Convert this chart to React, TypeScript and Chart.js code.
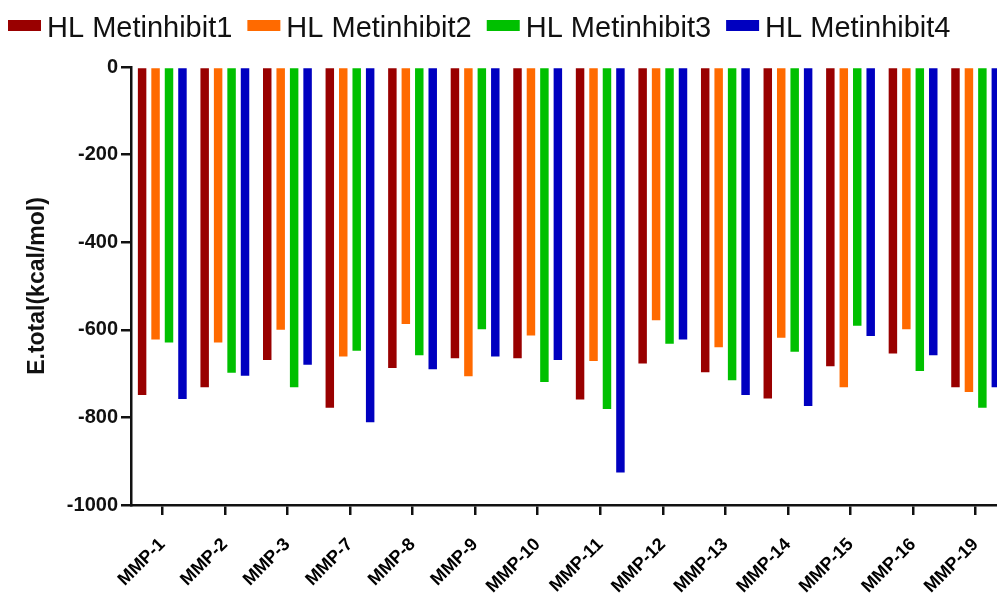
import React, { useEffect, useRef } from "react";
import { Chart, registerables } from "chart.js";

Chart.register(...registerables);

const categories = ["MMP-1", "MMP-2", "MMP-3", "MMP-7", "MMP-8", "MMP-9", "MMP-10", "MMP-11", "MMP-12", "MMP-13", "MMP-14", "MMP-15", "MMP-16", "MMP-19"];
const seriesNames = ["HL Metinhibit1", "HL Metinhibit2", "HL Metinhibit3", "HL Metinhibit4"];
const seriesColors = ["#990000", "#ff6a00", "#00c000", "#0000c0"];
const metinhibit1 = [-749, -731, -669, -778, -687, -665, -665, -759, -677, -697, -757, -683, -654, -731];
const metinhibit2 = [-622, -629, -600, -661, -587, -706, -613, -671, -578, -640, -618, -731, -599, -742];
const metinhibit3 = [-629, -698, -731, -648, -658, -599, -719, -781, -632, -715, -650, -591, -694, -778];
const metinhibit4 = [-758, -705, -680, -811, -690, -661, -669, -926, -622, -749, -774, -614, -658, -731];
const yMin = -1000;
const yMax = 0;
const yStep = 200;
const yTitle = "E.total(kcal/mol)";

const topLegend = {
  id: "topLegend",
  afterDraw(chart: any) {
    const ctx = chart.ctx;
    ctx.save();
    ctx.font = '29px "Liberation Sans", Arial, sans-serif';
    ctx.textBaseline = "alphabetic";
    let x = 8;
    chart.data.datasets.forEach((ds: any) => {
      ctx.fillStyle = ds.backgroundColor;
      ctx.fillRect(x, 20, 33, 11);
      x += 39;
      ctx.fillStyle = "#111";
      ctx.fillText(ds.label, x, 37);
      x += ctx.measureText(ds.label).width + 15;
    });
    ctx.restore();
  },
};

export default function App() {
  const ref = useRef<HTMLCanvasElement | null>(null);
  useEffect(() => {
    if (!ref.current) return;
    const series = [metinhibit1, metinhibit2, metinhibit3, metinhibit4];
    const chart = new Chart(ref.current, {
      type: "bar",
      data: {
        labels: categories,
        datasets: series.map((d, i) => ({
          label: seriesNames[i],
          data: d,
          backgroundColor: seriesColors[i],
          borderWidth: 0,
          categoryPercentage: 0.86,
          barPercentage: 0.63,
        })),
      },
      options: {
        responsive: false,
        animation: false,
        devicePixelRatio: 1,
        layout: { padding: { top: 67, left: 0, right: 2, bottom: 0 } },
        plugins: { legend: { display: false }, tooltip: { enabled: false } },
        scales: {
          x: {
            offset: true,
            grid: { display: true, drawOnChartArea: false, drawTicks: true, tickLength: 10, color: "#111", lineWidth: 2.5, offset: false },
            border: { display: true, color: "#111", width: 2.5 },
            ticks: {
              autoSkip: false,
              maxRotation: 45,
              minRotation: 45,
              padding: 19,
              color: "#000",
              font: { family: '"Liberation Sans", Arial, sans-serif', size: 18, weight: "bold" },
            },
            afterFit: (s: any) => { s.height = 94; },
          },
          y: {
            min: yMin,
            max: yMax,
            grid: { display: true, drawOnChartArea: false, drawTicks: true, tickLength: 10, color: "#111", lineWidth: 2.5 },
            border: { display: true, color: "#111", width: 2.5 },
            ticks: {
              stepSize: yStep,
              padding: 3,
              color: "#111",
              font: { family: '"Liberation Sans", Arial, sans-serif', size: 20, weight: "bold" },
              callback: (v: any) => String(v),
            },
            title: {
              display: true,
              text: yTitle,
              color: "#111",
              padding: { top: 24, bottom: 0 },
              font: { family: '"Liberation Sans", Arial, sans-serif', size: 23, weight: "bold" },
            },
            afterFit: (s: any) => { s.width = 131; },
          },
        },
      },
      plugins: [topLegend],
    });
    return () => chart.destroy();
  }, []);
  return (
    <div style={{ position: "fixed", left: 0, top: 0, width: 997, height: 599, overflow: "hidden", background: "#fff" }}>
      <canvas ref={ref} width={1010} height={599} style={{ width: 1010, height: 599, display: "block" }} />
    </div>
  );
}
